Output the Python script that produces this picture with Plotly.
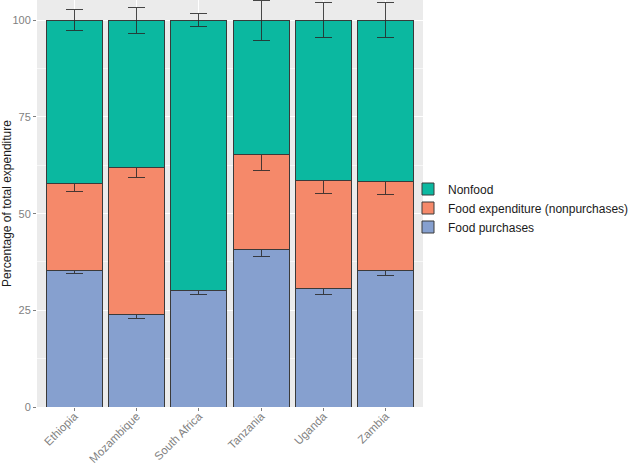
import plotly.graph_objects as go

countries = ["Ethiopia", "Mozambique", "South Africa", "Tanzania", "Uganda", "Zambia"]
food_purchases = [35.3, 23.9, 30.1, 40.8, 30.6, 35.3]
food_nonpurchases = [22.5, 38.1, None, 24.4, 28.0, 23.1]
nonfood = [42.2, 38.0, 69.9, 34.8, 41.4, 41.6]
err_purchases = [0.85, 1.0, 0.9, 1.8, 1.6, 1.4]
err_total_food = [1.95, 2.55, None, 4.0, 3.3, 3.4]
err_total = [2.7, 3.35, 1.7, 5.2, 4.55, 4.55]
y_ticks = [0, 25, 50, 75, 100]

series = [
    ("Food purchases", food_purchases, err_purchases, "#86A0CF"),
    ("Food expenditure (nonpurchases)", food_nonpurchases, err_total_food, "#F5896A"),
    ("Nonfood", nonfood, err_total, "#0BB8A0"),
]

fig = go.Figure()
for name, vals, errs, color in series:
    fig.add_trace(go.Bar(
        x=countries, y=vals, name=name,
        marker=dict(color=color, line=dict(color="#3a3a3a", width=1)),
        width=0.9,
        error_y=dict(type="data", array=errs, visible=True,
                     color="rgba(40,40,40,0.85)", thickness=1, width=8.5),
    ))

fig.update_layout(
    barmode="stack",
    width=632, height=466,
    margin=dict(l=37, r=209, t=0, b=59, autoexpand=False),
    paper_bgcolor="white",
    plot_bgcolor="#EBEBEB",
    font=dict(family="Liberation Sans, Arial, sans-serif", size=12, color="#4D4D4D"),
    bargap=0.1,
    showlegend=True,
    legend=dict(xref="container", yref="container", x=408 / 632, xanchor="left",
                y=(466 - 208) / 466, yanchor="middle",
                traceorder="reversed", font=dict(size=12, color="#1a1a1a"),
                bgcolor="rgba(0,0,0,0)", itemwidth=30, tracegroupgap=0),
    xaxis=dict(range=[-0.6, 5.6], tickangle=-45, showgrid=True, gridcolor="white",
               gridwidth=1, ticks="outside", ticklen=3, tickcolor="#7F7F7F",
               ticklabelstandoff=-6,
               tickfont=dict(size=11.5, color="#7F7F7F"), zeroline=False, automargin=False),
    yaxis=dict(range=[0, 105.25], tickvals=y_ticks, showgrid=True, gridcolor="white",
               gridwidth=1, ticks="outside", ticklen=3, tickcolor="#7F7F7F",
               tickfont=dict(size=11, color="#7F7F7F"), zeroline=False, automargin=False,
               minor=dict(tickvals=[12.5, 37.5, 62.5, 87.5], showgrid=True,
                          gridcolor="rgba(255,255,255,0.6)", gridwidth=0.5),
               title=dict(text="Percentage of total expenditure",
                          font=dict(size=12, color="#1a1a1a"), standoff=6)),
)

fig.write_html("out.html", config={"displayModeBar": False},
               post_script="document.body.style.margin='0';document.body.style.overflow='hidden';")
